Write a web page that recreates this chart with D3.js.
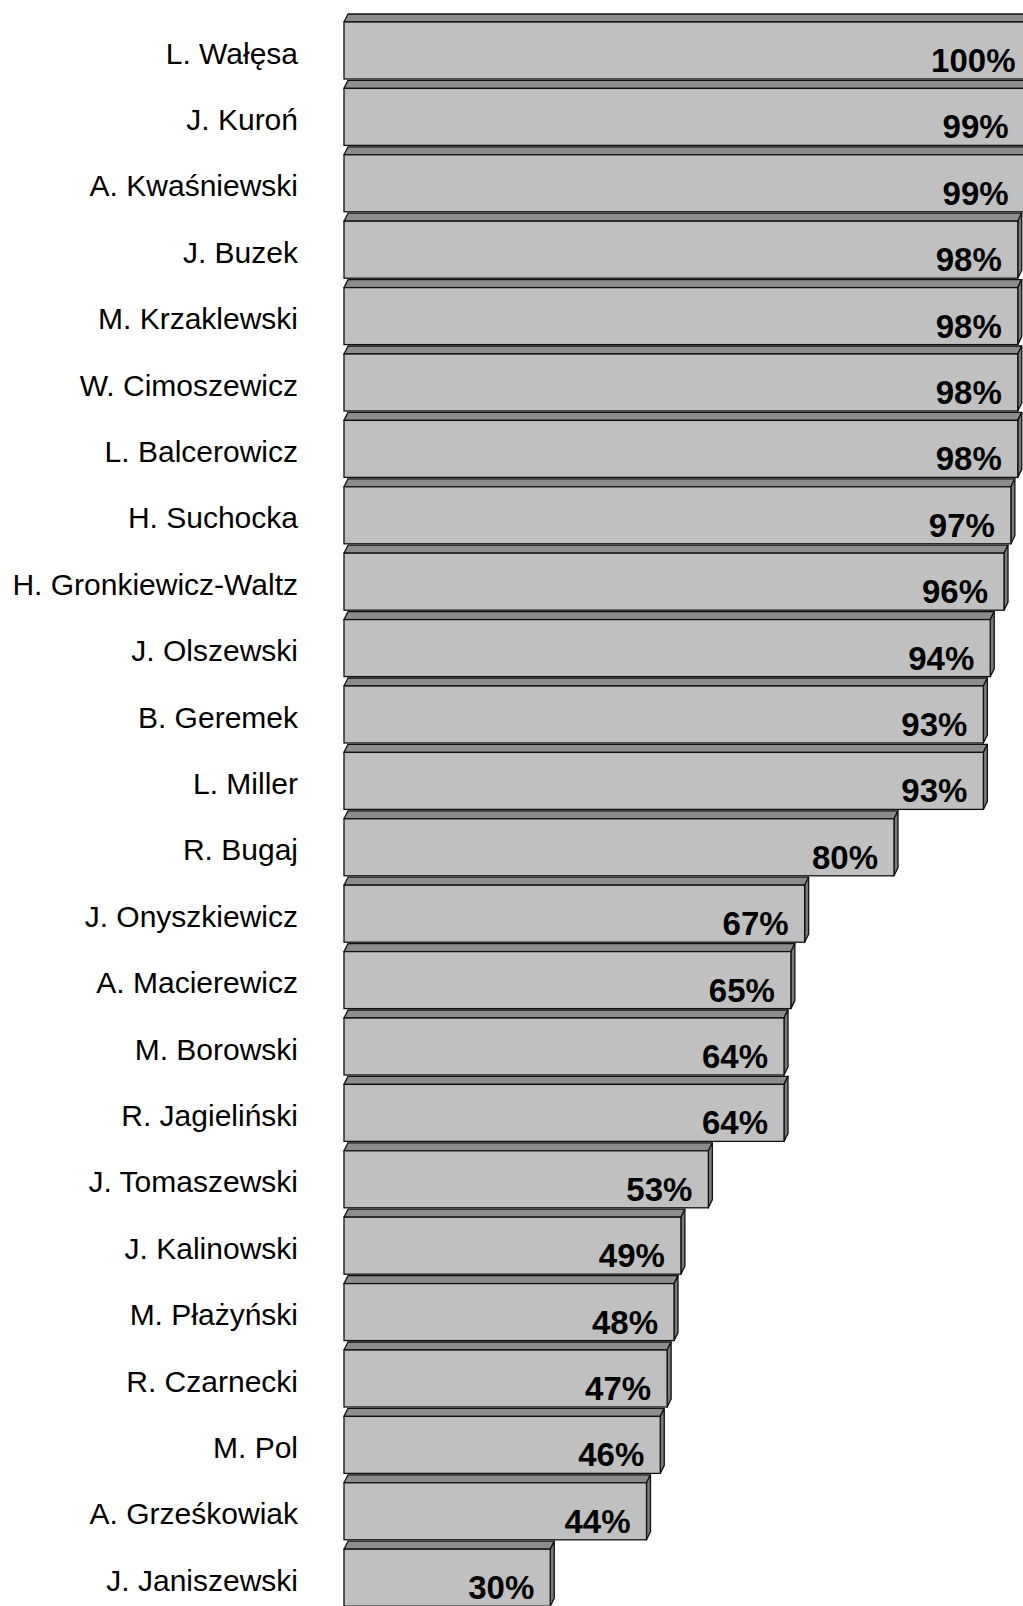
<!DOCTYPE html>
<html>
<head>
<meta charset="utf-8">
<script src="https://cdn.jsdelivr.net/npm/d3@7"></script>
<style>
  html, body { margin: 0; padding: 0; background: #fff; }
  svg { display: block; }
  text { font-family: "Liberation Sans", Arial, Helvetica, sans-serif; }
</style>
</head>
<body>
<svg id="chart" width="1023" height="1606"></svg>
<script>
const names = ["L. Wałęsa", "J. Kuroń", "A. Kwaśniewski", "J. Buzek", "M. Krzaklewski",
    "W. Cimoszewicz", "L. Balcerowicz", "H. Suchocka", "H. Gronkiewicz-Waltz", "J. Olszewski",
    "B. Geremek", "L. Miller", "R. Bugaj", "J. Onyszkiewicz", "A. Macierewicz", "M. Borowski",
    "R. Jagieliński", "J. Tomaszewski", "J. Kalinowski", "M. Płażyński", "R. Czarnecki",
    "M. Pol", "A. Grześkowiak", "J. Janiszewski"];
const values = [100, 99, 99, 98, 98, 98, 98, 97, 96, 94, 93, 93, 80, 67, 65, 64, 64, 53, 49, 48, 47, 46, 44, 30];

const data = names.map((n, i) => ({ name: n, value: values[i] }));

const svg = d3.select("#chart");

// depth of the fake 3d effect
const dx = 4, dy = 8, frontH = 57;

const x = d3.scaleLinear().domain([0, 100]).range([344, 1031.5]);
const y = d3.scaleBand().domain(names).range([14, 14 + names.length * 66.4]).padding(0);

const g = svg.selectAll("g.bar")
    .data(data)
    .enter().append("g")
    .attr("class", "bar");

// top face
g.append("path")
    .attr("d", d => {
        let t = y(d.name) + dy, x0 = x(0), x1 = x(d.value);
        return `M${x0},${t} L${x0 + dx},${t - dy} L${x1 + dx},${t - dy} L${x1},${t} Z`;
    })
    .attr("fill", "#8c8c8c")
    .attr("stroke", "#111")
    .attr("stroke-width", 1.3)
    .attr("stroke-linejoin", "round");

// side face
g.append("path")
    .attr("d", d => {
        let t = y(d.name) + dy, x1 = x(d.value);
        return `M${x1},${t} L${x1 + dx},${t - dy} L${x1 + dx},${t + frontH - dy} L${x1},${t + frontH} Z`;
    })
    .attr("fill", "#7a7a7a")
    .attr("stroke", "#111")
    .attr("stroke-width", 1.3)
    .attr("stroke-linejoin", "round");

// front face
g.append("rect")
    .attr("x", x(0))
    .attr("y", d => y(d.name) + dy)
    .attr("width", d => x(d.value) - x(0))
    .attr("height", frontH)
    .attr("fill", "#c0c0c0")
    .attr("stroke", "#111")
    .attr("stroke-width", 1.3);

// value labels
g.append("text")
    .attr("x", d => x(d.value) - 16)
    .attr("y", d => y(d.name) + dy + frontH - 7)
    .attr("text-anchor", "end")
    .attr("font-weight", "bold")
    .attr("font-size", 33)
    .attr("fill", "#000")
    .text(d => d.value + "%");

// category labels
svg.selectAll("text.cat")
    .data(data)
    .enter().append("text")
    .attr("class", "cat")
    .attr("x", 298)
    .attr("y", d => y(d.name) + dy + frontH / 2 + 13)
    .attr("text-anchor", "end")
    .attr("font-size", 30)
    .attr("fill", "#000")
    .text(d => d.name);
</script>
</body>
</html>
